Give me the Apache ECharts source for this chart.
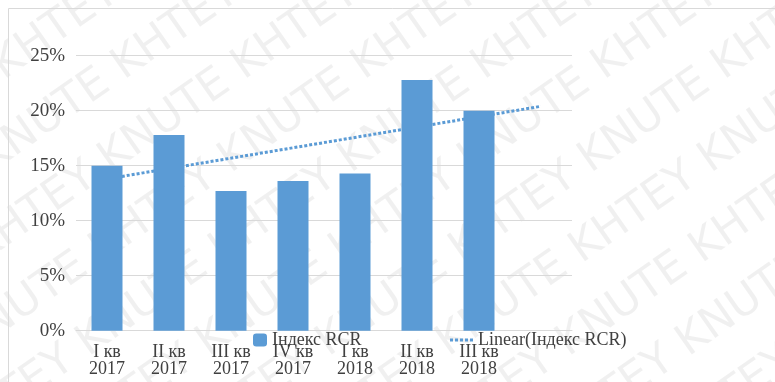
<!DOCTYPE html>
<html>
<head>
<meta charset="utf-8">
<script src="https://cdn.jsdelivr.net/npm/echarts@6/dist/echarts.min.js"></script>
<style>html,body{margin:0;padding:0;background:#fff;}#c{width:775px;height:382px;}</style>
</head>
<body>
<div id="c"></div>
<script>
const categories = ['I кв\n2017', 'II кв\n2017', 'III кв\n2017', 'IV кв\n2017', 'I кв\n2018', 'II кв\n2018', 'III кв\n2018', ''];
const rcrValues = [15.0, 17.8, 12.7, 13.6, 14.3, 22.8, 20.0, null];
const trendValues = [13.8, null, null, null, null, null, null, 20.4];
const yTicks = [0, 5, 10, 15, 20, 25];

const chart = echarts.init(document.getElementById('c'), null, {renderer: 'canvas'});

const wm = [];
const wmText = 'KHTEY KNUTE KHTEY KNUTE KHTEY KNUTE';
for (let i = -4; i < 8; i++) {
  wm.push({
    type: 'text',
    x: -60 + i * 120,
    y: 420,
    rotation: Math.PI * 35 / 180,
    z: -10,
    silent: true,
    style: {text: wmText, fill: 'rgba(0,0,0,0.06)', font: '44px "DejaVu Sans"'}
  });
}
wm.push({type: 'rect', shape: {x: 8.5, y: 8.5, width: 800, height: 400}, z: -5, silent: true,
  style: {fill: 'none', stroke: '#d9d9d9', lineWidth: 1}});

const font = '"Liberation Serif", "Times New Roman", serif';
const dotIcon = 'path://M0,0h3v3h-3zM5,0h3v3h-3zM10,0h3v3h-3zM15,0h3v3h-3zM20,0h3v3h-3z';
chart.setOption({
  animation: false,
  graphic: wm,
  grid: {left: 76, right: 203, top: 55.7, bottom: 51.3},
  legend: [
    {data: ['Індекс RCR'], left: 253, top: 331, padding: 0, itemWidth: 14, itemHeight: 13, itemGap: 5,
      textStyle: {fontFamily: font, fontSize: 18, color: '#404040'}},
    {data: [{name: 'Linear(Індекс RCR)', icon: dotIcon}], left: 450, top: 331, padding: 0,
      itemWidth: 23, itemHeight: 3, itemGap: 4,
      itemStyle: {color: '#5b9bd5'},
      textStyle: {fontFamily: font, fontSize: 18, color: '#404040'}}
  ],
  xAxis: {
    type: 'category',
    data: categories,
    axisLine: {show: true, lineStyle: {color: '#d9d9d9', width: 1}},
    axisTick: {show: false},
    axisLabel: {interval: 0, margin: 13, fontFamily: font, fontSize: 18, lineHeight: 17, color: '#404040'}
  },
  yAxis: {
    type: 'value',
    min: 0, max: 25, interval: 5,
    axisLine: {show: false},
    axisTick: {show: false},
    splitLine: {lineStyle: {color: '#d9d9d9', width: 1}},
    axisLabel: {margin: 11, fontFamily: font, fontSize: 19, color: '#404040',
      formatter: v => yTicks.includes(v) ? v + '%' : ''}
  },
  series: [
    {
      name: 'Linear(Індекс RCR)', type: 'line', data: trendValues, connectNulls: true,
      symbol: 'none', z: 1,
      lineStyle: {color: '#5b9bd5', width: 3, type: [3, 2]},
      itemStyle: {color: '#5b9bd5'}
    },
    {
      name: 'Індекс RCR', type: 'bar', data: rcrValues, barWidth: 31, z: 2,
      itemStyle: {color: '#5b9bd5'}
    }
  ]
});
</script>
</body>
</html>
